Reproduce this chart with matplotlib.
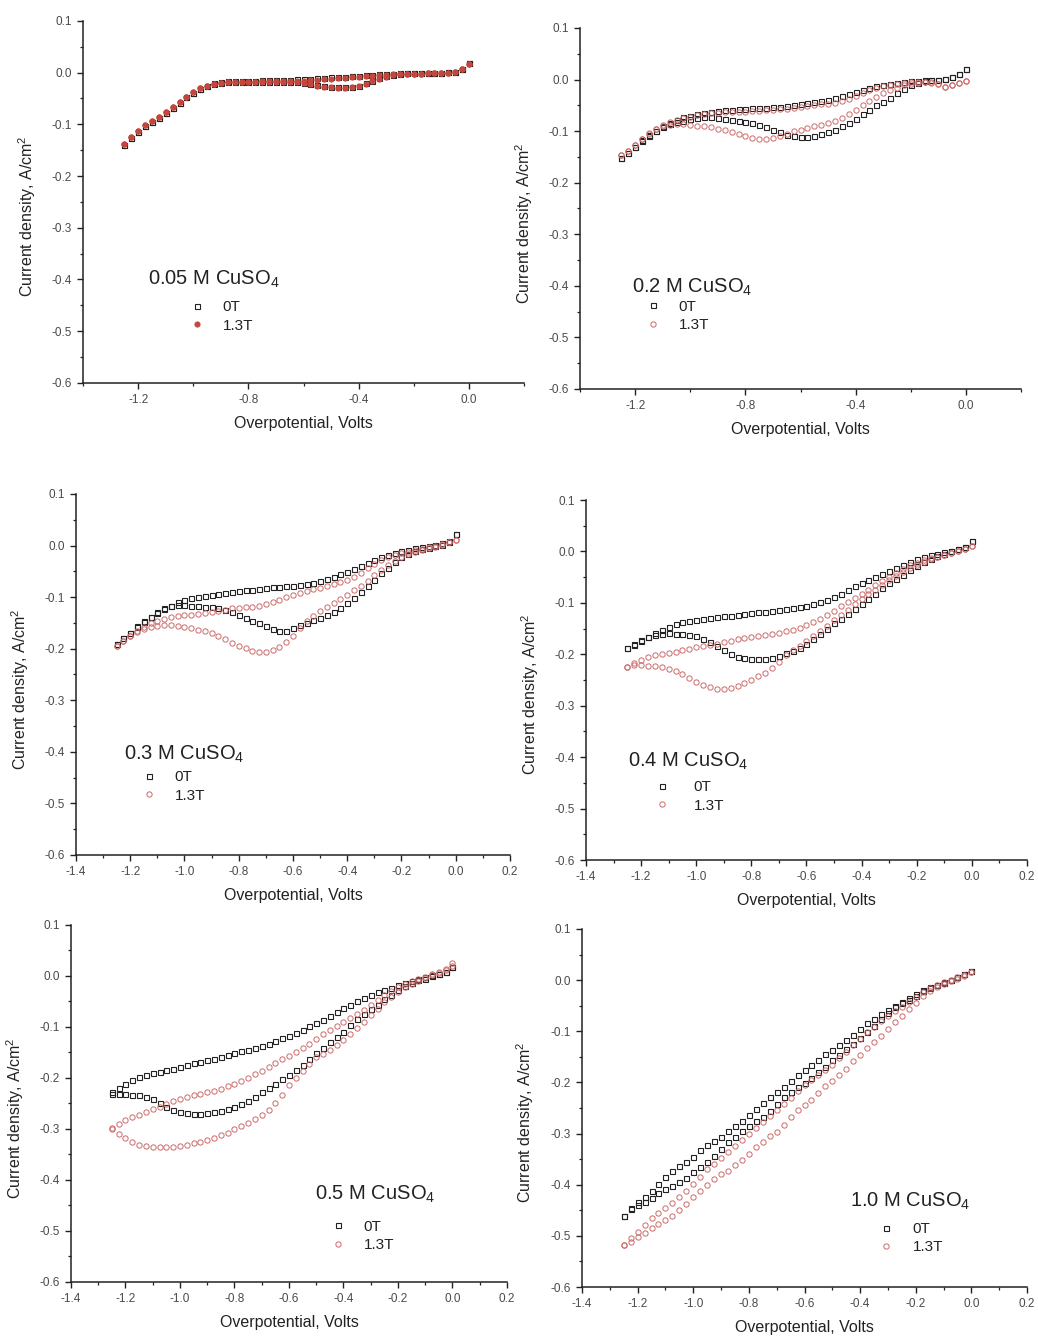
import matplotlib
matplotlib.use("Agg")
import matplotlib.pyplot as plt
import numpy as np
from matplotlib.lines import Line2D
from matplotlib.ticker import FormatStrFormatter, MultipleLocator

plt.rcParams["font.family"] = ["Liberation Sans", "DejaVu Sans"]
plt.rcParams["mathtext.fontset"] = "custom"
plt.rcParams["mathtext.rm"] = "Liberation Sans"
plt.rcParams["mathtext.it"] = "Liberation Sans:italic"
plt.rcParams["axes.unicode_minus"] = False

# sweep potentials (V), shared by every run
POTENTIAL = np.round(np.arange(-1.25, 0.0001, 0.025), 3)

# current density (A/cm^2) on the two branches of each loop, 0T and 1.3T
C005_0T_UP = [
    -0.140, -0.127, -0.114, -0.103, -0.095, -0.087, -0.078, -0.068, -0.058, -0.048,
    -0.039, -0.031, -0.025, -0.021, -0.019, -0.017, -0.016, -0.016, -0.016, -0.016,
    -0.015, -0.015, -0.015, -0.014, -0.014, -0.013, -0.013, -0.012, -0.011, -0.010,
    -0.009, -0.009, -0.008, -0.007, -0.006, -0.005, -0.004, -0.003, -0.002, -0.002,
    -0.001, -0.001, -0.001, 0.000, 0.000, 0.000, 0.000, 0.001, 0.002, 0.007,
    0.018]
C005_0T_LO = [
    -0.140, -0.127, -0.114, -0.103, -0.095, -0.087, -0.078, -0.068, -0.058, -0.048,
    -0.039, -0.031, -0.025, -0.022, -0.020, -0.019, -0.018, -0.018, -0.018, -0.018,
    -0.018, -0.018, -0.018, -0.018, -0.018, -0.019, -0.020, -0.022, -0.024, -0.026,
    -0.027, -0.028, -0.028, -0.027, -0.025, -0.021, -0.016, -0.011, -0.007, -0.004,
    -0.002, -0.001, -0.001, -0.001, 0.000, 0.000, 0.000, 0.001, 0.002, 0.007,
    0.018]
C005_13T_UP = [
    -0.138, -0.125, -0.112, -0.102, -0.094, -0.086, -0.077, -0.067, -0.057, -0.047,
    -0.038, -0.030, -0.025, -0.022, -0.020, -0.019, -0.018, -0.018, -0.018, -0.018,
    -0.017, -0.017, -0.017, -0.017, -0.016, -0.016, -0.016, -0.015, -0.014, -0.013,
    -0.012, -0.011, -0.010, -0.009, -0.008, -0.007, -0.006, -0.005, -0.004, -0.003,
    -0.003, -0.002, -0.002, -0.002, -0.001, -0.001, -0.001, 0.000, 0.001, 0.006,
    0.017]
C005_13T_LO = [
    -0.138, -0.125, -0.112, -0.102, -0.094, -0.086, -0.077, -0.067, -0.057, -0.047,
    -0.038, -0.030, -0.025, -0.022, -0.020, -0.019, -0.019, -0.019, -0.019, -0.019,
    -0.019, -0.019, -0.019, -0.019, -0.019, -0.019, -0.020, -0.022, -0.025, -0.027,
    -0.028, -0.029, -0.029, -0.028, -0.026, -0.022, -0.017, -0.012, -0.008, -0.005,
    -0.003, -0.002, -0.002, -0.002, -0.001, -0.001, -0.001, 0.000, 0.001, 0.006,
    0.017]

C02_0T_UP = [
    -0.152, -0.142, -0.130, -0.118, -0.108, -0.099, -0.091, -0.084, -0.078, -0.073,
    -0.070, -0.067, -0.064, -0.062, -0.061, -0.060, -0.059, -0.058, -0.057, -0.056,
    -0.056, -0.055, -0.054, -0.053, -0.052, -0.050, -0.048, -0.046, -0.043, -0.041,
    -0.039, -0.035, -0.031, -0.028, -0.025, -0.021, -0.017, -0.013, -0.010, -0.008,
    -0.006, -0.004, -0.003, -0.002, -0.001, 0.000, 0.000, 0.001, 0.004, 0.010,
    0.021]
C02_0T_LO = [
    -0.152, -0.142, -0.130, -0.119, -0.109, -0.100, -0.093, -0.087, -0.083, -0.080,
    -0.077, -0.074, -0.073, -0.073, -0.074, -0.076, -0.078, -0.080, -0.082, -0.085,
    -0.088, -0.092, -0.097, -0.102, -0.107, -0.110, -0.112, -0.111, -0.109, -0.106,
    -0.102, -0.097, -0.091, -0.084, -0.076, -0.067, -0.059, -0.050, -0.043, -0.035,
    -0.027, -0.018, -0.011, -0.006, -0.003, -0.001, 0.000, 0.001, 0.004, 0.010,
    0.021]
C02_13T_UP = [
    -0.147, -0.138, -0.127, -0.115, -0.105, -0.096, -0.089, -0.083, -0.079, -0.075,
    -0.072, -0.069, -0.067, -0.065, -0.064, -0.063, -0.062, -0.062, -0.062, -0.061,
    -0.061, -0.060, -0.059, -0.058, -0.057, -0.056, -0.054, -0.052, -0.050, -0.048,
    -0.047, -0.045, -0.041, -0.037, -0.032, -0.027, -0.021, -0.017, -0.013, -0.010,
    -0.008, -0.006, -0.005, -0.004, -0.004, -0.005, -0.009, -0.014, -0.010, -0.006,
    -0.003]
C02_13T_LO = [
    -0.147, -0.138, -0.127, -0.115, -0.104, -0.096, -0.091, -0.088, -0.087, -0.087,
    -0.088, -0.090, -0.091, -0.093, -0.095, -0.098, -0.101, -0.105, -0.109, -0.113,
    -0.116, -0.116, -0.114, -0.110, -0.105, -0.100, -0.097, -0.094, -0.091, -0.088,
    -0.084, -0.080, -0.074, -0.067, -0.059, -0.050, -0.041, -0.033, -0.027, -0.021,
    -0.016, -0.011, -0.008, -0.006, -0.005, -0.006, -0.009, -0.014, -0.010, -0.006,
    -0.003]

C03_0T_UP = [
    -0.190, -0.180, -0.170, -0.156, -0.146, -0.138, -0.130, -0.123, -0.118, -0.110,
    -0.105, -0.101, -0.099, -0.097, -0.095, -0.093, -0.092, -0.090, -0.089, -0.087,
    -0.086, -0.084, -0.083, -0.081, -0.080, -0.079, -0.078, -0.076, -0.074, -0.072,
    -0.069, -0.065, -0.061, -0.056, -0.051, -0.045, -0.040, -0.034, -0.028, -0.023,
    -0.018, -0.014, -0.011, -0.008, -0.005, -0.002, 0.000, 0.002, 0.004, 0.008,
    0.022]
C03_0T_LO = [
    -0.190, -0.180, -0.170, -0.158, -0.148, -0.138, -0.128, -0.121, -0.117, -0.116,
    -0.116, -0.117, -0.118, -0.119, -0.120, -0.122, -0.125, -0.129, -0.134, -0.140,
    -0.146, -0.151, -0.156, -0.161, -0.165, -0.165, -0.160, -0.154, -0.150, -0.145,
    -0.140, -0.134, -0.128, -0.121, -0.112, -0.102, -0.091, -0.079, -0.066, -0.054,
    -0.043, -0.032, -0.023, -0.016, -0.011, -0.007, -0.004, -0.001, 0.002, 0.007,
    0.022]
C03_13T_UP = [
    -0.195, -0.185, -0.175, -0.165, -0.157, -0.151, -0.146, -0.142, -0.139, -0.137,
    -0.135, -0.134, -0.132, -0.130, -0.128, -0.126, -0.124, -0.122, -0.121, -0.120,
    -0.119, -0.117, -0.114, -0.110, -0.105, -0.100, -0.096, -0.092, -0.088, -0.085,
    -0.082, -0.078, -0.075, -0.071, -0.066, -0.060, -0.053, -0.044, -0.035, -0.028,
    -0.022, -0.018, -0.015, -0.012, -0.009, -0.006, -0.003, 0.000, 0.003, 0.006,
    0.011]
C03_13T_LO = [
    -0.195, -0.185, -0.175, -0.167, -0.162, -0.158, -0.156, -0.155, -0.155, -0.156,
    -0.158, -0.160, -0.163, -0.166, -0.170, -0.175, -0.181, -0.188, -0.194, -0.199,
    -0.204, -0.207, -0.207, -0.203, -0.196, -0.187, -0.175, -0.160, -0.147, -0.136,
    -0.127, -0.119, -0.111, -0.103, -0.095, -0.087, -0.078, -0.068, -0.058, -0.047,
    -0.037, -0.029, -0.022, -0.016, -0.012, -0.008, -0.005, -0.002, 0.002, 0.006,
    0.011]

C04_0T_UP = [
    -0.187, -0.181, -0.174, -0.167, -0.159, -0.152, -0.146, -0.141, -0.138, -0.135,
    -0.133, -0.131, -0.129, -0.128, -0.126, -0.125, -0.123, -0.121, -0.120, -0.118,
    -0.117, -0.115, -0.114, -0.112, -0.110, -0.108, -0.106, -0.102, -0.098, -0.094,
    -0.089, -0.082, -0.075, -0.068, -0.062, -0.056, -0.050, -0.044, -0.038, -0.032,
    -0.026, -0.020, -0.015, -0.010, -0.007, -0.004, -0.002, 0.001, 0.004, 0.008,
    0.020]
C04_0T_LO = [
    -0.187, -0.180, -0.172, -0.167, -0.162, -0.160, -0.159, -0.160, -0.161, -0.163,
    -0.165, -0.170, -0.176, -0.183, -0.192, -0.200, -0.205, -0.208, -0.210, -0.210,
    -0.209, -0.207, -0.203, -0.198, -0.193, -0.187, -0.180, -0.170, -0.160, -0.150,
    -0.140, -0.131, -0.122, -0.112, -0.103, -0.093, -0.083, -0.072, -0.062, -0.054,
    -0.045, -0.036, -0.028, -0.021, -0.015, -0.009, -0.004, 0.000, 0.004, 0.008,
    0.020]
C04_13T_UP = [
    -0.224, -0.217, -0.211, -0.206, -0.202, -0.200, -0.198, -0.195, -0.192, -0.189,
    -0.186, -0.183, -0.181, -0.179, -0.177, -0.174, -0.171, -0.169, -0.167, -0.165,
    -0.163, -0.161, -0.158, -0.155, -0.152, -0.148, -0.143, -0.137, -0.131, -0.123,
    -0.116, -0.107, -0.099, -0.090, -0.082, -0.074, -0.066, -0.058, -0.050, -0.042,
    -0.034, -0.027, -0.022, -0.017, -0.013, -0.010, -0.006, -0.003, 0.000, 0.004,
    0.010]
C04_13T_LO = [
    -0.224, -0.221, -0.221, -0.222, -0.223, -0.225, -0.228, -0.233, -0.239, -0.246,
    -0.254, -0.260, -0.264, -0.267, -0.267, -0.265, -0.261, -0.256, -0.250, -0.243,
    -0.236, -0.226, -0.215, -0.202, -0.192, -0.184, -0.175, -0.165, -0.155, -0.144,
    -0.134, -0.123, -0.113, -0.103, -0.093, -0.083, -0.074, -0.065, -0.056, -0.048,
    -0.040, -0.032, -0.026, -0.020, -0.015, -0.011, -0.007, -0.003, 0.000, 0.004,
    0.010]

C05_0T_UP = [
    -0.228, -0.219, -0.212, -0.205, -0.199, -0.195, -0.191, -0.188, -0.185, -0.182,
    -0.178, -0.175, -0.171, -0.168, -0.165, -0.162, -0.158, -0.155, -0.151, -0.148,
    -0.145, -0.142, -0.138, -0.133, -0.127, -0.122, -0.117, -0.111, -0.105, -0.099,
    -0.093, -0.087, -0.079, -0.071, -0.063, -0.056, -0.049, -0.043, -0.037, -0.032,
    -0.027, -0.023, -0.018, -0.013, -0.009, -0.005, -0.002, 0.001, 0.004, 0.008,
    0.018]
C05_0T_LO = [
    -0.232, -0.231, -0.232, -0.233, -0.234, -0.237, -0.242, -0.249, -0.256, -0.262,
    -0.266, -0.268, -0.270, -0.270, -0.269, -0.267, -0.264, -0.260, -0.256, -0.251,
    -0.245, -0.237, -0.228, -0.220, -0.212, -0.203, -0.194, -0.184, -0.174, -0.163,
    -0.152, -0.141, -0.130, -0.120, -0.109, -0.097, -0.085, -0.074, -0.065, -0.056,
    -0.046, -0.037, -0.028, -0.020, -0.013, -0.008, -0.005, -0.001, 0.003, 0.008,
    0.018]
C05_13T_UP = [
    -0.298, -0.290, -0.283, -0.277, -0.272, -0.266, -0.261, -0.256, -0.251, -0.246,
    -0.241, -0.237, -0.234, -0.231, -0.228, -0.225, -0.221, -0.216, -0.211, -0.206,
    -0.200, -0.193, -0.186, -0.178, -0.170, -0.163, -0.156, -0.149, -0.141, -0.133,
    -0.123, -0.114, -0.106, -0.098, -0.090, -0.082, -0.074, -0.066, -0.056, -0.047,
    -0.038, -0.029, -0.021, -0.015, -0.010, -0.006, -0.002, 0.003, 0.008, 0.014,
    0.025]
C05_13T_LO = [
    -0.300, -0.310, -0.318, -0.326, -0.331, -0.334, -0.335, -0.336, -0.336, -0.335,
    -0.333, -0.331, -0.328, -0.325, -0.321, -0.317, -0.312, -0.307, -0.301, -0.295,
    -0.288, -0.280, -0.272, -0.262, -0.250, -0.233, -0.213, -0.200, -0.186, -0.172,
    -0.159, -0.153, -0.146, -0.136, -0.126, -0.114, -0.102, -0.090, -0.077, -0.064,
    -0.052, -0.041, -0.031, -0.022, -0.015, -0.009, -0.004, 0.001, 0.006, 0.012,
    0.020]

C10_0T_UP = [
    -0.462, -0.447, -0.433, -0.424, -0.412, -0.398, -0.385, -0.373, -0.364, -0.356,
    -0.345, -0.333, -0.322, -0.314, -0.306, -0.295, -0.285, -0.276, -0.264, -0.252,
    -0.241, -0.229, -0.218, -0.209, -0.197, -0.185, -0.175, -0.166, -0.156, -0.145,
    -0.136, -0.127, -0.118, -0.107, -0.096, -0.084, -0.076, -0.067, -0.059, -0.051,
    -0.043, -0.035, -0.027, -0.020, -0.014, -0.009, -0.004, 0.001, 0.006, 0.011,
    0.018]
C10_0T_LO = [
    -0.462, -0.445, -0.440, -0.434, -0.426, -0.417, -0.409, -0.402, -0.395, -0.386,
    -0.376, -0.365, -0.356, -0.343, -0.330, -0.316, -0.306, -0.295, -0.285, -0.276,
    -0.268, -0.255, -0.242, -0.229, -0.218, -0.209, -0.201, -0.191, -0.180, -0.169,
    -0.157, -0.146, -0.134, -0.124, -0.113, -0.101, -0.089, -0.076, -0.064, -0.053,
    -0.045, -0.038, -0.031, -0.022, -0.015, -0.010, -0.005, 0.000, 0.006, 0.011,
    0.018]
C10_13T_UP = [
    -0.517, -0.505, -0.492, -0.478, -0.465, -0.455, -0.445, -0.435, -0.424, -0.412,
    -0.398, -0.384, -0.370, -0.359, -0.347, -0.336, -0.324, -0.312, -0.300, -0.289,
    -0.277, -0.265, -0.254, -0.243, -0.230, -0.217, -0.206, -0.195, -0.186, -0.176,
    -0.165, -0.152, -0.140, -0.127, -0.115, -0.102, -0.091, -0.080, -0.070, -0.061,
    -0.053, -0.043, -0.033, -0.024, -0.016, -0.009, -0.004, 0.001, 0.006, 0.010,
    0.016]
C10_13T_LO = [
    -0.517, -0.512, -0.502, -0.494, -0.485, -0.477, -0.469, -0.461, -0.450, -0.437,
    -0.424, -0.413, -0.401, -0.389, -0.380, -0.373, -0.362, -0.351, -0.339, -0.327,
    -0.316, -0.305, -0.296, -0.283, -0.268, -0.253, -0.244, -0.234, -0.220, -0.207,
    -0.197, -0.186, -0.173, -0.159, -0.146, -0.132, -0.121, -0.110, -0.095, -0.082,
    -0.070, -0.057, -0.044, -0.031, -0.021, -0.014, -0.007, -0.002, 0.003, 0.008,
    0.016]

TITLES = [
    "0.05 M CuSO$_4$", "0.2 M CuSO$_4$", "0.3 M CuSO$_4$",
    "0.4 M CuSO$_4$", "0.5 M CuSO$_4$", "1.0 M CuSO$_4$",
]
RUNS = [
    (C005_0T_UP, C005_0T_LO, C005_13T_UP, C005_13T_LO),
    (C02_0T_UP, C02_0T_LO, C02_13T_UP, C02_13T_LO),
    (C03_0T_UP, C03_0T_LO, C03_13T_UP, C03_13T_LO),
    (C04_0T_UP, C04_0T_LO, C04_13T_UP, C04_13T_LO),
    (C05_0T_UP, C05_0T_LO, C05_13T_UP, C05_13T_LO),
    (C10_0T_UP, C10_0T_LO, C10_13T_UP, C10_13T_LO),
]
SERIES_LABELS = ["0T", "1.3T"]

# layout of the six panels (figure fractions) and their annotation anchors
AXES_RECTS = [
    [0.0800, 0.7138, 0.4249, 0.2706],
    [0.5588, 0.7093, 0.4249, 0.2698],
    [0.0732, 0.3610, 0.4181, 0.2698],
    [0.5645, 0.3572, 0.4249, 0.2691],
    [0.0684, 0.0419, 0.4200, 0.2668],
    [0.5607, 0.0381, 0.4287, 0.2676],
]
X_MAJOR = [0.4, 0.4, 0.2, 0.2, 0.2, 0.2]
TITLE_XY = [(0.147, 0.271), (0.118, 0.266), (0.111, 0.263),
            (0.095, 0.258), (0.560, 0.230), (0.602, 0.223)]
LEGEND_XY = [(0.240, 0.229), (0.147, 0.247), (0.150, 0.235),
             (0.154, 0.222), (0.594, 0.174), (0.667, 0.182)]
TEXT_PAD = [1.2, 1.2, 1.2, 1.6, 1.2, 1.2]

INK = "#222222"
RED = "#cc6a6a"
RED_FILL = "#c4473d"


def square_style():
    return dict(ls="none", marker="s", ms=3.6, mfc="none", mec=INK, mew=0.8)


def circle_style(filled):
    if filled:
        return dict(ls="none", marker="o", ms=3.8, mfc=RED_FILL, mec=RED_FILL, mew=0.6)
    return dict(ls="none", marker="o", ms=3.8, mfc="none", mec=RED, mew=0.7)


def draw_panel(fig, i):
    ax = fig.add_axes(AXES_RECTS[i])
    filled = i == 0
    up0, lo0, up1, lo1 = RUNS[i]
    for branch in (up0, lo0):
        assert len(branch) == len(POTENTIAL)
        ax.plot(POTENTIAL, branch, **square_style())
    for branch in (up1, lo1):
        assert len(branch) == len(POTENTIAL)
        ax.plot(POTENTIAL, branch, **circle_style(filled))

    ax.set_xlim(-1.4, 0.2)
    ax.set_ylim(-0.6, 0.1)
    ax.xaxis.set_major_locator(MultipleLocator(X_MAJOR[i]))
    ax.xaxis.set_minor_locator(MultipleLocator(X_MAJOR[i] / 2))
    ax.yaxis.set_major_locator(MultipleLocator(0.1))
    ax.yaxis.set_minor_locator(MultipleLocator(0.05))
    ax.xaxis.set_major_formatter(FormatStrFormatter("%.1f"))
    ax.yaxis.set_major_formatter(FormatStrFormatter("%.1f"))
    if X_MAJOR[i] == 0.4:
        ax.set_xticks([-1.2, -0.8, -0.4, 0.0])

    for side in ("top", "right"):
        ax.spines[side].set_visible(False)
    for side in ("left", "bottom"):
        ax.spines[side].set_linewidth(1.1)
        ax.spines[side].set_color(INK)
    ax.tick_params(which="major", direction="out", length=4.5, width=1.0,
                   color=INK, labelcolor="#4a4a4a", labelsize=8.5, pad=3.5)
    ax.tick_params(which="minor", direction="out", length=2.5, width=0.9, color=INK)

    ax.set_xlabel("Overpotential, Volts", fontsize=11.5, color=INK)
    ax.set_ylabel("Current density, A/cm$^2$", fontsize=11.5, color=INK)
    h_px = AXES_RECTS[i][3] * 1338
    ax.xaxis.set_label_coords(0.5, -33 / h_px)
    ax.yaxis.set_label_coords(-0.103, 0.46)

    ax.text(*TITLE_XY[i], TITLES[i], transform=ax.transAxes, fontsize=14.5,
            color=INK, ha="left", va="baseline")
    handles = [Line2D([], [], **square_style()),
               Line2D([], [], **circle_style(filled))]
    leg = ax.legend(handles, SERIES_LABELS, loc="upper left",
                    bbox_to_anchor=LEGEND_XY[i], frameon=False, borderpad=0,
                    borderaxespad=0, handlelength=1.0, handletextpad=TEXT_PAD[i],
                    labelspacing=0.3, fontsize=11, numpoints=1)
    for t in leg.get_texts():
        t.set_color(INK)
    return ax


fig = plt.figure(figsize=(10.38, 13.38), dpi=100)
fig.patch.set_facecolor("white")
for k in range(len(RUNS)):
    draw_panel(fig, k)
fig.savefig("out.png", dpi=100, facecolor="white")
